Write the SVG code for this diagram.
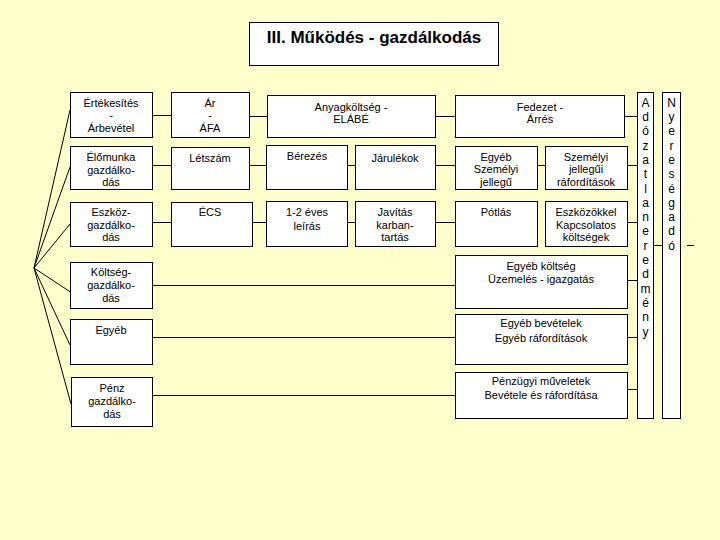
<svg xmlns="http://www.w3.org/2000/svg" width="720" height="540" viewBox="0 0 720 540">
<style>
.bx{fill:#fff;stroke:#000;stroke-width:1}
.t{font-family:"Liberation Sans",Arial,sans-serif;font-size:11px;fill:#000;text-anchor:middle}
.v{font-family:"Liberation Sans",Arial,sans-serif;font-size:12px;fill:#000;text-anchor:middle}
.ttl{font-family:"Liberation Sans",Arial,sans-serif;font-size:17px;font-weight:bold;fill:#000;text-anchor:middle}
.c{stroke:#000;stroke-width:1;fill:none}
</style>
<rect width="720" height="540" fill="#FFFFCC"/>
<g id="connectors" class="c">
<path d="M34 268L70 110M34 268L70 167M34 268L70 224M34 268L72 293M34 268L70 345M34 268L71 404"/>
<path d="M152 115.5H171M152 165.5H171M152 222.5H171"/>
<path d="M249 116.5H267M249 165.5H266M252 222.5H266"/>
<path d="M347 165.5H355M347 222.5H355"/>
<path d="M435 116.5H455M435 165.5H455M435 222.5H455"/>
<path d="M537 165.5H545"/>
<path d="M624 116.5H637M627 165.5H637M627 222.5H637M627 280.5H637M627 337.5H637M627 389.5H637"/>
<path d="M152 285.5H455M152 337.5H455M152 395.5H455"/>
<path d="M653 245.5H662M687 245.5H694"/>
</g>
<g id="title"><rect class="bx" x="249.5" y="22.5" width="249" height="43"/><text class="ttl" x="374" y="43">III. Működés - gazdálkodás</text></g>
<g id="n-ertekesites"><rect class="bx" x="70.5" y="92.5" width="82" height="45"/><text class="t" x="111" y="107">Értékesítés</text><text class="t" x="111" y="119">-</text><text class="t" x="111" y="132">Árbevétel</text></g>
<g id="n-elomunka"><rect class="bx" x="70.5" y="146.5" width="82" height="43"/><text class="t" x="111" y="161">Élőmunka</text><text class="t" x="111" y="174">gazdálko-</text><text class="t" x="111" y="186">dás</text></g>
<g id="n-eszkoz"><rect class="bx" x="70.5" y="202.5" width="82" height="44"/><text class="t" x="111" y="216">Eszköz-</text><text class="t" x="111" y="229">gazdálko-</text><text class="t" x="111" y="241">dás</text></g>
<g id="n-koltseg"><rect class="bx" x="70.5" y="262.5" width="82" height="46"/><text class="t" x="111" y="276">Költség-</text><text class="t" x="111" y="289">gazdálko-</text><text class="t" x="111" y="302">dás</text></g>
<g id="n-egyeb"><rect class="bx" x="70.5" y="319.5" width="82" height="45"/><text class="t" x="111" y="334">Egyéb</text></g>
<g id="n-penz"><rect class="bx" x="71.5" y="377.5" width="81" height="49"/><text class="t" x="112" y="392">Pénz</text><text class="t" x="112" y="405">gazdálko-</text><text class="t" x="112" y="418">dás</text></g>
<g id="n-ar"><rect class="bx" x="171.5" y="92.5" width="78" height="45"/><text class="t" x="210" y="107">Ár</text><text class="t" x="210" y="119">-</text><text class="t" x="210" y="132">ÁFA</text></g>
<g id="n-letszam"><rect class="bx" x="171.5" y="147.5" width="78" height="42"/><text class="t" x="210" y="162">Létszám</text></g>
<g id="n-ecs"><rect class="bx" x="171.5" y="202.5" width="81" height="44"/><text class="t" x="210" y="216">ÉCS</text></g>
<g id="n-anyag"><rect class="bx" x="267.5" y="95.5" width="168" height="42"/><text class="t" x="351" y="111">Anyagköltség -</text><text class="t" x="351" y="123">ELÁBÉ</text></g>
<g id="n-berezes"><rect class="bx" x="266.5" y="145.5" width="81" height="44"/><text class="t" x="307" y="160">Bérezés</text></g>
<g id="n-jarulekok"><rect class="bx" x="355.5" y="145.5" width="80" height="44"/><text class="t" x="395" y="162">Járulékok</text></g>
<g id="n-leiras"><rect class="bx" x="266.5" y="201.5" width="81" height="45"/><text class="t" x="307" y="216">1-2 éves</text><text class="t" x="307" y="230">leírás</text></g>
<g id="n-javitas"><rect class="bx" x="355.5" y="201.5" width="80" height="45"/><text class="t" x="395" y="216">Javítás</text><text class="t" x="395" y="229">karban-</text><text class="t" x="395" y="241">tartás</text></g>
<g id="n-fedezet"><rect class="bx" x="455.5" y="95.5" width="169" height="42"/><text class="t" x="540" y="111">Fedezet -</text><text class="t" x="540" y="123">Árrés</text></g>
<g id="n-egyeb-szem"><rect class="bx" x="455.5" y="146.5" width="82" height="43"/><text class="t" x="496" y="161">Egyéb</text><text class="t" x="496" y="173">Személyi</text><text class="t" x="496" y="186">jellegű</text></g>
<g id="n-szem-raf"><rect class="bx" x="545.5" y="146.5" width="82" height="43"/><text class="t" x="586" y="161">Személyi</text><text class="t" x="586" y="173">jellegűi</text><text class="t" x="586" y="186">ráfordítások</text></g>
<g id="n-potlas"><rect class="bx" x="455.5" y="201.5" width="82" height="45"/><text class="t" x="496" y="216">Pótlás</text></g>
<g id="n-eszkozokkel"><rect class="bx" x="545.5" y="201.5" width="82" height="45"/><text class="t" x="586" y="216">Eszközökkel</text><text class="t" x="586" y="229">Kapcsolatos</text><text class="t" x="586" y="241">költségek</text></g>
<g id="n-egyeb-koltseg"><rect class="bx" x="455.5" y="255.5" width="172" height="53"/><text class="t" x="541" y="270">Egyéb költség</text><text class="t" x="541" y="283">Üzemelés - igazgatás</text></g>
<g id="n-egyeb-bev"><rect class="bx" x="455.5" y="314.5" width="172" height="50"/><text class="t" x="541" y="327">Egyéb bevételek</text><text class="t" x="541" y="342">Egyéb ráfordítások</text></g>
<g id="n-penzugyi"><rect class="bx" x="455.5" y="372.5" width="172" height="46"/><text class="t" x="541" y="385">Pénzügyi műveletek</text><text class="t" x="541" y="399">Bevétele és ráfordítása</text></g>
<g id="n-adozatlan"><rect class="bx" x="637.5" y="92.5" width="16" height="326"/>
<text class="v" x="645.5" y="107">A</text><text class="v" x="645.5" y="121">d</text><text class="v" x="645.5" y="135">ó</text><text class="v" x="645.5" y="150">z</text><text class="v" x="645.5" y="164">a</text><text class="v" x="645.5" y="178">t</text><text class="v" x="645.5" y="193">l</text><text class="v" x="645.5" y="207">a</text><text class="v" x="645.5" y="221">n</text><text class="v" x="645.5" y="235">e</text><text class="v" x="645.5" y="250">r</text><text class="v" x="645.5" y="264">e</text><text class="v" x="645.5" y="278">d</text><text class="v" x="645.5" y="293">m</text><text class="v" x="645.5" y="307">é</text><text class="v" x="645.5" y="321">n</text><text class="v" x="645.5" y="336">y</text></g>
<g id="n-nyereseg"><rect class="bx" x="662.5" y="92.5" width="18" height="326"/>
<text class="v" x="671.5" y="107">N</text><text class="v" x="671.5" y="121">y</text><text class="v" x="671.5" y="135">e</text><text class="v" x="671.5" y="150">r</text><text class="v" x="671.5" y="164">e</text><text class="v" x="671.5" y="178">s</text><text class="v" x="671.5" y="193">é</text><text class="v" x="671.5" y="207">g</text><text class="v" x="671.5" y="221">a</text><text class="v" x="671.5" y="235">d</text><text class="v" x="671.5" y="250">ó</text></g>
</svg>
